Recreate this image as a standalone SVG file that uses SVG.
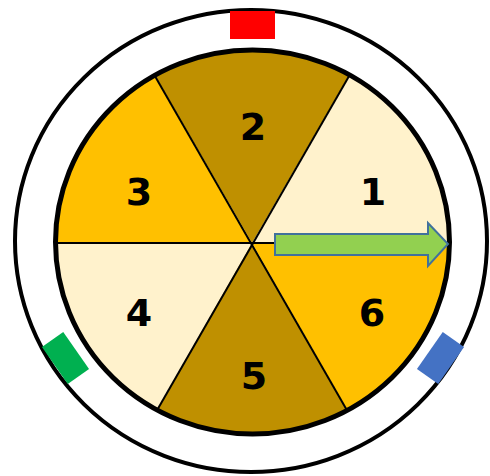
<svg xmlns="http://www.w3.org/2000/svg" width="490" height="476" viewBox="0 0 490 476">
<style>
.num{font-family:"DejaVu Sans",sans-serif;font-weight:bold;font-size:38px;text-anchor:middle;fill:#000}
.div{stroke:#000;stroke-width:2;fill:none}
</style>
<defs>
<clipPath id="wheel"><ellipse cx="252.5" cy="242" rx="197" ry="192"/></clipPath>
</defs>
<rect width="490" height="476" fill="#fff"/>
<g id="outer-ring">
<ellipse cx="251" cy="241" rx="236" ry="231" fill="#fff" stroke="#000" stroke-width="4"/>
</g>
<g id="markers">
<rect id="marker-red" x="230" y="11" width="45" height="28" fill="#FF0000"/>
<rect id="marker-green" x="-22.5" y="-13" width="45" height="26" fill="#00B050" transform="translate(65.5 358) rotate(55)"/>
<rect id="marker-blue" x="-22.5" y="-13" width="45" height="26" fill="#4472C4" transform="translate(440.5 358) rotate(-55)"/>
</g>
<g id="wheel-sectors" clip-path="url(#wheel)">
<polygon id="sector-1" points="252,243 460,243 460,-30 410,-30" fill="#FFF2CC"/>
<polygon id="sector-2" points="252,243 410,-30 94,-30" fill="#BF9000"/>
<polygon id="sector-3" points="252,243 94,-30 40,-30 40,243" fill="#FFC000"/>
<polygon id="sector-4" points="252,243 40,243 40,520 94,520" fill="#FFF2CC"/>
<polygon id="sector-5" points="252,243 94,520 410,520" fill="#BF9000"/>
<polygon id="sector-6" points="252,243 410,520 460,520 460,243" fill="#FFC000"/>
</g>
<g id="dividers" clip-path="url(#wheel)">
<line class="div" x1="40" y1="243" x2="460" y2="243"/>
<line class="div" x1="94" y1="-30" x2="410" y2="520"/>
<line class="div" x1="410" y1="-30" x2="94" y2="520"/>
</g>
<g id="wheel-rim">
<ellipse cx="252.5" cy="242" rx="197" ry="192" fill="none" stroke="#000" stroke-width="5"/>
</g>
<g id="labels">
<text class="num" x="373" y="205">1</text>
<text class="num" x="253" y="140">2</text>
<text class="num" x="139" y="205">3</text>
<text class="num" x="139" y="326">4</text>
<text class="num" x="254" y="389">5</text>
<text class="num" x="372" y="326">6</text>
</g>
<g id="connectors">
<polygon id="pointer-arrow" points="275,234 428,234 428,223 448,244 428,266 428,255 275,255" fill="#92D050" stroke="#41719C" stroke-width="2" stroke-linejoin="miter"/>
</g>
</svg>
